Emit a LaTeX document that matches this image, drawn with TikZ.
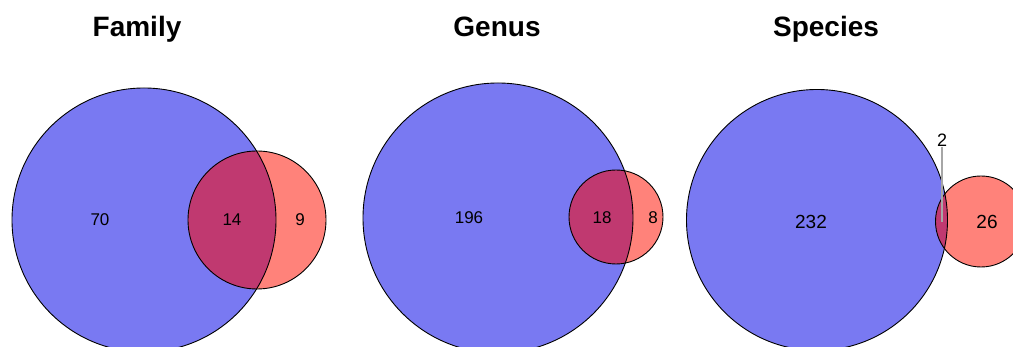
\documentclass[tikz,border=0pt]{standalone}
\usepackage{fontspec}
\setmainfont{Liberation Sans}
\usepackage{tikz}
\definecolor{blueset}{RGB}{121, 121, 242}
\definecolor{redset}{RGB}{255, 130, 122}
\definecolor{bothset}{RGB}{192, 57, 112}

\begin{document}
\begin{tikzpicture}[
      x=1pt, y=1pt,
      ttl/.style={font=\fontsize{28}{30}\selectfont\bfseries, anchor=base},
      num/.style={font=\fontsize{17}{19}\selectfont, inner sep=1pt},
      rim/.style={draw=black, line width=0.9pt},
      lead/.style={draw=black!35, line width=1.2pt}
    ]
      \useasboundingbox (0,0) rectangle (1013,347);
      \clip (0,0) rectangle (1013,347);

      % family panel
      \fill[blueset] (144,127) circle (132);
      \fill[redset]  (257,127) circle (69);
      \begin{scope}
        \clip (257,127) circle (69);
        \fill[bothset] (144,127) circle (132);
      \end{scope}
      \draw[rim] (144,127) circle (132);
      \draw[rim] (257,127) circle (69);
      \node[ttl] (famttl) at (137,310) {Family};
      \node[num] (fam70) at (100,127) {70};
      \node[num] (fam14) at (232,127) {14};
      \node[num] (fam9)  at (300,127) {9};

      % genus panel
      \fill[blueset] (498,129) circle (135);
      \fill[redset]  (616,130) circle (47);
      \begin{scope}
        \clip (616,130) circle (47);
        \fill[bothset] (498,129) circle (135);
      \end{scope}
      \draw[rim] (498,129) circle (135);
      \draw[rim] (616,130) circle (47);
      \node[ttl] (genttl) at (497,310) {Genus};
      \node[num] (gen196) at (469,129) {196};
      \node[num] (gen18)  at (602,129) {18};
      \node[num] (gen8)   at (653,129) {8};

      % species panel
      \fill[blueset] (817,127) circle (130.5);
      \fill[redset]  (981,125.5) circle (45.5);
      \begin{scope}
        \clip (981,125.5) circle (45.5);
        \fill[bothset] (817,127) circle (130.5);
      \end{scope}
      \draw[rim] (817,127) circle (130.5);
      \draw[rim] (981,125.5) circle (45.5);
      \node[ttl] (spettl) at (826,310) {Species};
      \node[num, font=\fontsize{19}{21}\selectfont] (spe232) at (811,125) {232};
      \node[num, font=\fontsize{19}{21}\selectfont] (spe26)  at (987,125) {26};
      \node[num, font=\fontsize{18}{20}\selectfont] (spe2)   at (942,207) {2};
      \coordinate (spe2end) at (942,125);
      \draw[lead] (spe2.south) -- (spe2end);
    \end{tikzpicture}
\end{document}
